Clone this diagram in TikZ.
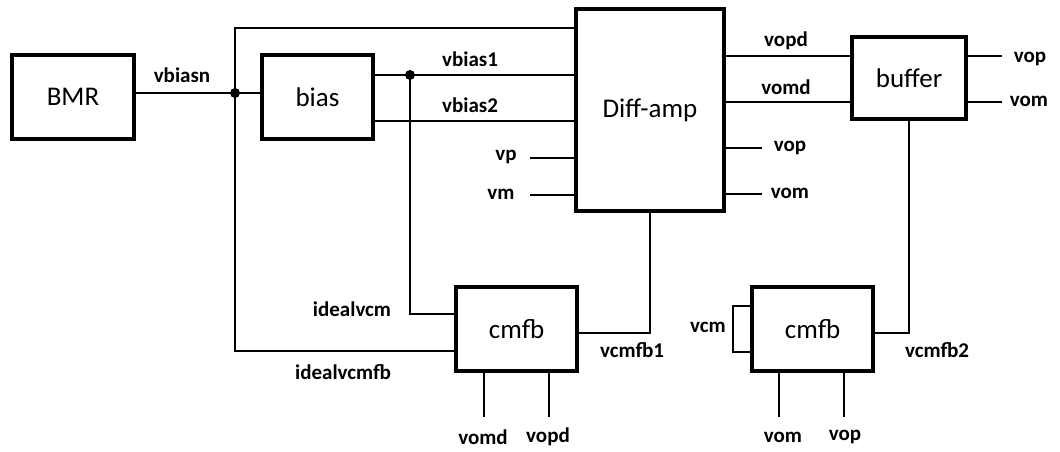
\documentclass[tikz,border=0pt]{standalone}
\usepackage{fontspec}
\setmainfont{Carlito}
\begin{document}
\begin{tikzpicture}[x=1pt,y=-1pt,
  blk/.style={draw, line width=3.2pt, inner sep=0pt, font=\fontsize{27}{30}\selectfont},
  wire/.style={line width=1.8pt},
  port/.style={inner sep=0pt, font=\bfseries\fontsize{21}{24}\selectfont},
  jdot/.style={circle, fill, inner sep=0pt, minimum size=10pt}]
\useasboundingbox (0,0) rectangle (1060,452);
\fill[white] (0,0) rectangle (1060,452);
% blocks
\node[blk, minimum width=122pt, minimum height=84pt] (bmr) at (73,97) {BMR};
\node[blk, minimum width=111pt, minimum height=84pt] (bias) at (317.5,97) {bias};
\node[blk, minimum width=148pt, minimum height=202pt] (da) at (650,110) {Diff-amp};
\node[blk, minimum width=114pt, minimum height=82pt] (buf) at (909,78) {buffer};
\node[blk, minimum width=121pt, minimum height=84pt] (cm1) at (516.5,329) {cmfb};
\node[blk, minimum width=121pt, minimum height=84pt] (cm2) at (812.5,329) {cmfb};
% junctions and free ends
\coordinate (j1) at (235,93);
\coordinate (j2) at (410,75);
\coordinate (vpend) at (530,158);
\coordinate (vmend) at (530,195);
\coordinate (dvop) at (762,148);
\coordinate (dvom) at (762,194);
\coordinate (bvop) at (1002,56);
\coordinate (bvom) at (1002,102);
\coordinate (c1a) at (484,417);
\coordinate (c1b) at (549,417);
\coordinate (c2a) at (779,417);
\coordinate (c2b) at (844,417);
\coordinate (vcmk) at (733,352);
% wires
\draw[wire] (bmr.east |- j1) -- (bias.west |- j1);
\draw[wire] (da.west |- 0,28) -| (j1) |- (cm1.west |- 0,351);
\draw[wire] (bias.east |- j2) -- (da.west |- j2);
\draw[wire] (j2) |- (cm1.west |- 0,314);
\draw[wire] (bias.east |- 0,121) -- (da.west |- 0,121);
\draw[wire] (vpend) -- (da.west |- vpend);
\draw[wire] (vmend) -- (da.west |- vmend);
\draw[wire] (da.east |- bvop) -- (buf.west |- bvop);
\draw[wire] (da.east |- bvom) -- (buf.west |- bvom);
\draw[wire] (da.east |- dvop) -- (dvop);
\draw[wire] (da.east |- dvom) -- (dvom);
\draw[wire] (buf.east |- bvop) -- (bvop);
\draw[wire] (buf.east |- bvom) -- (bvom);
\draw[wire] (cm1.east |- 0,333) -| (da.south);
\draw[wire] (buf.south) |- (cm2.east |- 0,333);
\draw[wire] (cm1.south -| c1a) -- (c1a);
\draw[wire] (cm1.south -| c1b) -- (c1b);
\draw[wire] (cm2.south -| c2a) -- (c2a);
\draw[wire] (cm2.south -| c2b) -- (c2b);
\draw[wire] (cm2.west |- 0,306) -| (vcmk) -- (cm2.west |- vcmk);
\node[jdot] (d1) at (j1) {};
\node[jdot] (d2) at (j2) {};
% labels
\node[port] (l1) at (182,75) {vbiasn};
\node[port] (l2) at (470,59) {vbias1};
\node[port] (l3) at (470,105) {vbias2};
\node[port] (l4) at (506,157) {vp};
\node[port] (l5) at (501,194) {vm};
\node[port] (l6) at (786,41) {vopd};
\node[port] (l7) at (786,87) {vomd};
\node[port] (l8) at (790,148) {vop};
\node[port] (l9) at (790,193) {vom};
\node[port] (l10) at (1030,59) {vop};
\node[port] (l11) at (1029,101) {vom};
\node[port] (l12) at (352,309) {idealvcm};
\node[port] (l13) at (343,372) {idealvcmfb};
\node[port] (l14) at (632,350) {vcmfb1};
\node[port] (l15) at (937,350) {vcmfb2};
\node[port] (l16) at (483,437) {vomd};
\node[port] (l17) at (548,437) {vopd};
\node[port] (l18) at (708,327) {vcm};
\node[port] (l19) at (783,437) {vom};
\node[port] (l20) at (845,437) {vop};
\end{tikzpicture}
\end{document}
